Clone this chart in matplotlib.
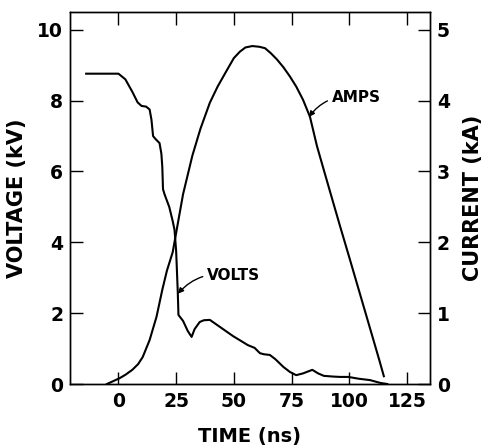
import matplotlib
matplotlib.use('Agg')
import matplotlib.pyplot as plt

plt.rcParams['font.family'] = ['DejaVu Sans']
plt.rcParams['font.weight'] = 'bold'
plt.rcParams['axes.labelweight'] = 'bold'

# voltage trace (kV) vs time (ns)
volt_t = [-14, 0, 3, 6, 8.3, 10, 12, 13.5, 14.3, 15, 16, 17.8, 18.6, 19, 19.3, 20, 22, 23.5, 24.3,
          25, 25.7, 26, 28, 30, 31.7, 33, 35.2, 37, 39.6, 44, 49.7, 53, 56, 59, 61.3, 63, 65.6,
          68, 71.5, 74.3, 77, 80, 84, 86.5, 89, 93, 96, 99.6, 104, 109, 113.5, 116.5]
volt_kv = [8.76, 8.76, 8.6, 8.25, 7.95, 7.85, 7.83, 7.75, 7.46, 7.0, 6.92, 6.8, 6.5, 6.13, 5.5, 5.35,
           5.0, 4.6, 4.35, 3.75, 2.6, 1.95, 1.78, 1.5, 1.33, 1.55, 1.75, 1.8, 1.81, 1.61, 1.35,
           1.22, 1.1, 1.02, 0.87, 0.84, 0.82, 0.7, 0.48, 0.34, 0.25, 0.3, 0.4, 0.3, 0.23, 0.21,
           0.2, 0.2, 0.15, 0.11, 0.03, 0.0]

# current trace (kA) vs time (ns)
amp_t = [-5, 0.4, 3, 6, 8.5, 10.5, 13.5, 16.5, 19, 21, 23.5, 25.2, 28, 32, 35.5, 39.6, 43, 47,
         50, 52.6, 55, 58, 61, 63.5, 66, 68.7, 71.5, 74.3, 77, 80, 83, 86, 88.9, 92, 96,
         100, 103.5, 107, 110.5, 113, 115]
amp_ka = [0.0, 0.08, 0.13, 0.2, 0.28, 0.38, 0.62, 0.95, 1.33, 1.6, 1.86, 2.17, 2.68, 3.22, 3.6,
          3.97, 4.2, 4.43, 4.6, 4.69, 4.75, 4.77, 4.76, 4.74, 4.67, 4.58, 4.47, 4.34, 4.2, 4.01,
          3.77, 3.36, 3.03, 2.68, 2.23, 1.79, 1.40, 1.01, 0.62, 0.34, 0.11]

xticks = [0, 25, 50, 75, 100, 125]
volt_ticks = [0, 2, 4, 6, 8, 10]
amp_ticks = [0, 1, 2, 3, 4, 5]

fig = plt.figure(figsize=(4.95, 4.46), dpi=100)
ax = fig.add_axes([0.1414, 0.139, 0.7273, 0.834])
ax2 = ax.twinx()

ax.plot(volt_t, volt_kv, color='black', lw=1.5)
ax2.plot(amp_t, amp_ka, color='black', lw=1.5)

ax.set_xlim(-21, 135)
ax.set_ylim(0, 10.5)
ax2.set_ylim(0, 5.25)

ax.set_xticks(xticks)
ax.set_yticks(volt_ticks)
ax2.set_yticks(amp_ticks)

for a in (ax, ax2):
    for s in a.spines.values():
        s.set_linewidth(1.0)
    a.tick_params(direction='in', length=9, width=1.0, labelsize=13.5, pad=5)
ax.tick_params(axis='x', top=True, pad=6)

ax.set_xlabel('TIME (ns)', fontsize=14, labelpad=11)
ax.set_ylabel('VOLTAGE (kV)', fontsize=15, labelpad=7)
ax2.set_ylabel('CURRENT (kA)', fontsize=15, labelpad=9)

ax2.annotate('AMPS', xy=(82.6, 3.77), xytext=(92.3, 4.05), fontsize=11,
             va='center', ha='left',
             arrowprops=dict(arrowstyle='-|>', color='black', lw=1.0, mutation_scale=8,
                             shrinkA=1, shrinkB=0, connectionstyle='arc3,rad=0.3'))
ax.annotate('VOLTS', xy=(25.8, 2.55), xytext=(38.3, 3.05), fontsize=11,
            va='center', ha='left',
            arrowprops=dict(arrowstyle='-|>', color='black', lw=1.0, mutation_scale=8,
                            shrinkA=1, shrinkB=0, connectionstyle='arc3,rad=0.3'))

fig.savefig('out.png', dpi=100)
